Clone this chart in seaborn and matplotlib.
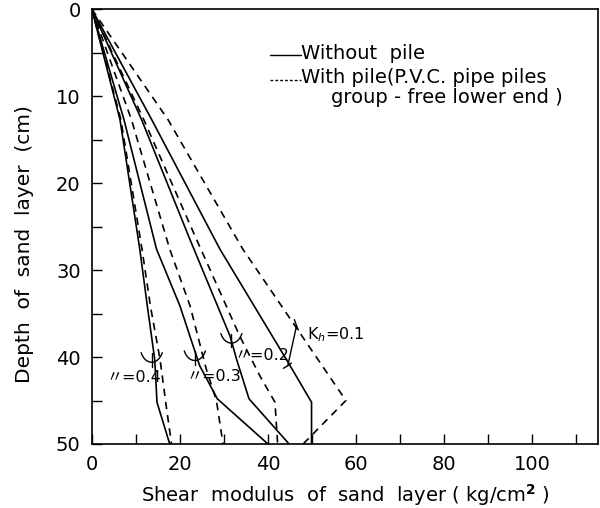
import matplotlib
matplotlib.use("Agg")
import matplotlib.pyplot as plt
from matplotlib.ticker import MultipleLocator
import seaborn as sns
import pandas as pd
import numpy as np

# ---- data (shear modulus G in kg/cm^2 vs depth in cm) ----
depth_s01 = [0, 12.7, 27.6, 40.8, 45.2, 50]
g_s01 = [0, 13.6, 29.1, 44.8, 49.9, 49.9]
depth_d01 = [0, 12.7, 27.6, 45.0, 50]
g_d01 = [0, 17.3, 34.3, 57.7, 48.0]

depth_s02 = [0, 12.7, 26.5, 37.6, 40.3, 44.8, 50]
g_s02 = [0, 11.3, 22.3, 31.4, 32.9, 35.7, 44.8]
depth_d02 = [0, 12.7, 26.5, 37.6, 42.2, 45.2, 50]
g_d02 = [0, 11.8, 23.8, 33.6, 38.2, 41.6, 42.2]

depth_s03 = [0, 12.7, 27.6, 34.1, 41.0, 44.8, 50]
g_s03 = [0, 7.3, 14.7, 20.0, 24.5, 28.5, 40.0]
depth_d03 = [0, 12.7, 27.6, 34.1, 41.4, 45.0, 50]
g_d03 = [0, 9.0, 17.7, 22.3, 26.0, 28.3, 29.8]

depth_s04 = [0, 12.7, 27.6, 34.1, 40.3, 45.2, 50]
g_s04 = [0, 6.4, 10.9, 12.6, 14.3, 14.8, 17.7]
depth_d04 = [0, 12.7, 27.6, 34.1, 40.3, 46.0, 50]
g_d04 = [0, 6.6, 11.4, 13.3, 15.5, 17.0, 18.1]

kh_values = ["0.1", "0.2", "0.3", "0.4"]
conditions = ["Without pile", "With pile"]

# annotation labels and their anchor positions (G, depth)
kh_labels = ["K$_h$=0.1", "〃=0.2", "〃=0.3", "〃=0.4"]
kh_label_x = [48.8, 32.3, 21.4, 3.2]
kh_label_y = [37.4, 39.8, 42.2, 42.3]
bracket_x = [45.5, 31.7, 23.4, 13.6]
bracket_y = [38.7, 37.6, 39.6, 39.8]

series = [
    ("0.1", "Without pile", g_s01, depth_s01),
    ("0.1", "With pile", g_d01, depth_d01),
    ("0.2", "Without pile", g_s02, depth_s02),
    ("0.2", "With pile", g_d02, depth_d02),
    ("0.3", "Without pile", g_s03, depth_s03),
    ("0.3", "With pile", g_d03, depth_d03),
    ("0.4", "Without pile", g_s04, depth_s04),
    ("0.4", "With pile", g_d04, depth_d04),
]

rows = []
for kh, cond, gs, ds in series:
    for i, (g, d) in enumerate(zip(gs, ds)):
        rows.append({"kh": kh, "cond": cond, "G": g, "depth": d, "order": i})
df = pd.DataFrame(rows)

sns.set_theme(style="ticks")
plt.rcParams["font.family"] = ["DejaVu Sans", "Noto Sans CJK JP"]
plt.rcParams["text.color"] = "black"
plt.rcParams["axes.labelcolor"] = "black"
plt.rcParams["xtick.color"] = "black"
plt.rcParams["ytick.color"] = "black"

fig = plt.figure(figsize=(6.0, 5.08), dpi=100)
ax = fig.add_axes([0.153, 0.126, 0.844, 0.856])

for kh in kh_values:
    for cond in conditions:
        sub = df[(df.kh == kh) & (df.cond == cond)].sort_values("order")
        sns.lineplot(data=sub, x="G", y="depth", sort=False, estimator=None,
                     color="black", lw=1.2, ax=ax,
                     linestyle="-" if cond == "Without pile" else (0, (4.5, 3.5)))

# Kh annotation labels
for lab, lx, ly in zip(kh_labels, kh_label_x, kh_label_y):
    ax.text(lx, ly, lab, fontsize=11.5, va="center", ha="left", color="black")

# small bracket marks indicating which pair the label refers to
for i, (bx, by) in enumerate(zip(bracket_x, bracket_y)):
    if i == 0:
        ax.plot([bx - 1.0, bx + 1.0], [by + 2.3, by - 2.3], color="black", lw=1.0)
        ax.plot([bx - 2.0, bx - 1.0, bx - 0.2], [by + 2.6, by + 2.3, by + 2.0], color="black", lw=1.0)
        ax.plot([bx + 0.5, bx + 1.0, bx + 1.4], [by - 3.0, by - 2.3, by - 1.8], color="black", lw=1.0)
    else:
        t = np.linspace(-1, 1, 21)
        w = 2.4
        ax.plot(bx + w * t, by + 0.8 * (1 - t ** 2) - 0.3 * np.abs(t) ** 6, color="black", lw=1.0)
        ax.plot([bx, bx], [by - 0.3, by + 1.3], color="black", lw=1.0)

# legend drawn as in-figure text with line samples
ax.plot([40.5, 47.5], [5.3, 5.3], color="black", lw=1.0)
ax.text(47.6, 5.1, "Without  pile", fontsize=14, va="center", ha="left")
ax.plot([40.5, 47.5], [8.1, 8.1], color="black", lw=1.0, linestyle=(0, (2, 1.5)))
ax.text(47.6, 7.9, "With pile(P.V.C. pipe piles", fontsize=14, va="center", ha="left")
ax.text(54.3, 10.2, "group - free lower end )", fontsize=14, va="center", ha="left")

ax.set_xlim(0, 115)
ax.set_ylim(50, 0)
ax.xaxis.set_major_locator(MultipleLocator(20))
ax.xaxis.set_minor_locator(MultipleLocator(10))
ax.yaxis.set_major_locator(MultipleLocator(10))
ax.yaxis.set_minor_locator(MultipleLocator(5))
ax.tick_params(which="both", direction="in", length=7, width=1.0, color="black",
               labelsize=14, labelcolor="black")
ax.tick_params(axis="x", pad=8)
ax.tick_params(axis="y", pad=8)
for s in ax.spines.values():
    s.set_visible(True)
    s.set_color("black")
    s.set_linewidth(1.2)

ax.set_xlabel("Shear  modulus  of  sand  layer ( kg/cm$^{\\mathbf{2}}$ )", fontsize=14, labelpad=6, color="black")
ax.set_ylabel("Depth  of  sand  layer  (cm)", fontsize=14.5, color="black")
ax.yaxis.set_label_coords(-0.115, 0.46)
ax.set_facecolor("white")
fig.patch.set_facecolor("white")
legend = ax.get_legend()
if legend is not None:
    legend.remove()

fig.savefig("out.png", dpi=100, facecolor="white")
